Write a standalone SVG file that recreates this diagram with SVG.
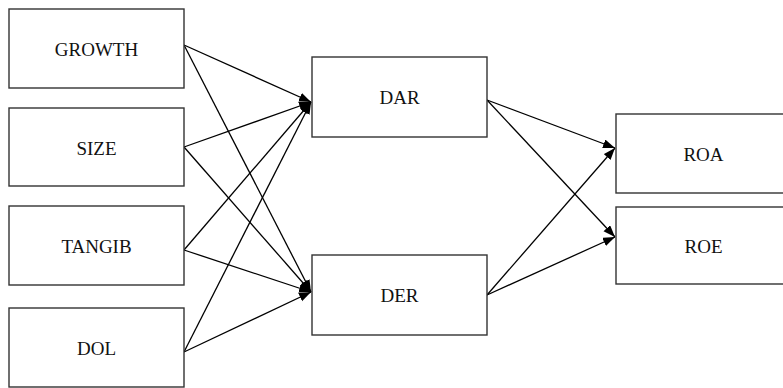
<svg xmlns="http://www.w3.org/2000/svg" width="783" height="388" viewBox="0 0 783 388">
<style>
.box{fill:#fff;stroke:#333;stroke-width:1.4}
.lbl{font-family:'Liberation Serif','Times New Roman',Times,'DejaVu Serif',serif;font-size:19px;fill:#111;text-anchor:middle}
.edge{stroke:#000;stroke-width:1.3;fill:none;marker-end:url(#ah)}
</style>
<defs>
<marker id="ah" markerUnits="userSpaceOnUse" markerWidth="12" markerHeight="10" refX="12" refY="4.5" orient="auto">
<path d="M0,0 L12,4.5 L0,9 z" fill="#000"/>
</marker>
</defs>
<rect width="783" height="388" fill="#fff"/>
<g id="connectors">
<line class="edge" x1="184" y1="45" x2="311" y2="102"/>
<line class="edge" x1="184" y1="45" x2="311" y2="292"/>
<line class="edge" x1="184" y1="147" x2="311" y2="102"/>
<line class="edge" x1="184" y1="147" x2="311" y2="292"/>
<line class="edge" x1="184" y1="250" x2="311" y2="102"/>
<line class="edge" x1="184" y1="250" x2="311" y2="292"/>
<line class="edge" x1="184" y1="352" x2="311" y2="102"/>
<line class="edge" x1="184" y1="352" x2="311" y2="292"/>
<line class="edge" x1="487" y1="100" x2="615" y2="148"/>
<line class="edge" x1="487" y1="100" x2="615" y2="237"/>
<line class="edge" x1="487" y1="295" x2="615" y2="148"/>
<line class="edge" x1="487" y1="295" x2="615" y2="237"/>
</g>
<g id="growth"><rect class="box" x="9" y="9" width="175" height="79"/><text class="lbl" x="96.5" y="56" font-family="Liberation Serif, serif">GROWTH</text></g>
<g id="size"><rect class="box" x="9" y="108" width="175" height="78"/><text class="lbl" x="96.5" y="155">SIZE</text></g>
<g id="tangib"><rect class="box" x="9" y="206" width="175" height="79"/><text class="lbl" x="96.5" y="253">TANGIB</text></g>
<g id="dol"><rect class="box" x="9" y="308" width="175" height="79"/><text class="lbl" x="96.5" y="355">DOL</text></g>
<g id="dar"><rect class="box" x="312" y="57" width="175" height="80"/><text class="lbl" x="399.5" y="104">DAR</text></g>
<g id="der"><rect class="box" x="312" y="255" width="175" height="80"/><text class="lbl" x="399.5" y="302">DER</text></g>
<g id="roa"><rect class="box" x="616" y="114" width="175" height="79"/><text class="lbl" x="703.5" y="161">ROA</text></g>
<g id="roe"><rect class="box" x="616" y="207" width="175" height="77"/><text class="lbl" x="703.5" y="253">ROE</text></g>
</svg>
